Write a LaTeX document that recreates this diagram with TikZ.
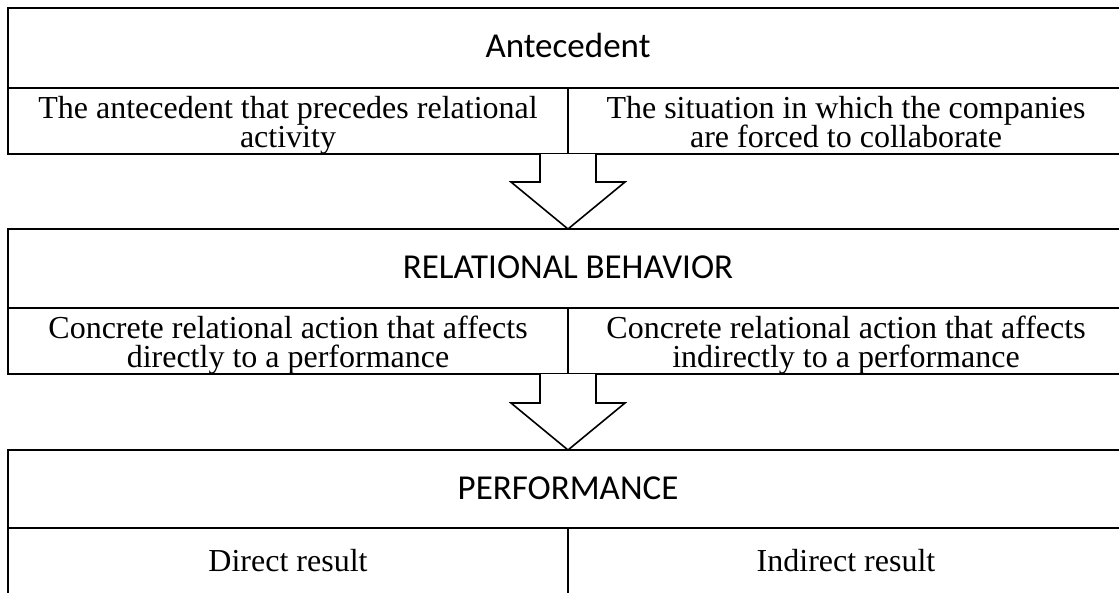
\documentclass[tikz,border=0pt]{standalone}
\usepackage{fontspec}
\setmainfont{Liberation Serif}
\newfontfamily\hdfont{Carlito}
\begin{document}
\begin{tikzpicture}[x=1pt,y=-1pt,
  frame/.style={draw=black,line width=1.6pt},
  hd/.style={font=\hdfont\fontsize{35}{40}\selectfont,anchor=base,inner sep=0pt},
  cell/.style={font=\fontsize{32}{29}\selectfont,anchor=base,inner sep=0pt},
  bigarrow/.style={draw=black,line width=1.6pt,fill=white,line join=miter}]
\useasboundingbox (0,0) rectangle (1119,592);
% box 1
\draw[frame] (8,8) rectangle (1125,154);
\draw[frame] (8,88) -- (1125,88);
\draw[frame] (568,88) -- (568,154);
\node[hd] (h1) at (568,57) {Antecedent};
\node[cell] (c11a) at (288,118) {The antecedent that precedes relational};
\node[cell] (c11b) at (288,147) {activity};
\node[cell] (c12a) at (846,118) {The situation in which the companies};
\node[cell] (c12b) at (846,147) {are forced to collaborate};
% arrow 1
\draw[bigarrow] (540,154) -- (540,182) -- (511,182) -- (568,229) -- (625,182) -- (596,182) -- (596,154);
% box 2
\draw[frame] (8,229) rectangle (1125,374);
\draw[frame] (8,308) -- (1125,308);
\draw[frame] (568,308) -- (568,374);
\node[hd] (h2) at (568,278) {RELATIONAL BEHAVIOR};
\node[cell] (c21a) at (288,338) {Concrete relational action that affects};
\node[cell] (c21b) at (288,367) {directly to a performance};
\node[cell] (c22a) at (846,338) {Concrete relational action that affects};
\node[cell] (c22b) at (846,367) {indirectly to a performance};
% arrow 2
\draw[bigarrow] (540,374) -- (540,403) -- (511,403) -- (568,450) -- (625,403) -- (596,403) -- (596,374);
% box 3
\draw[frame] (8,450) rectangle (1125,600);
\draw[frame] (8,528) -- (1125,528);
\draw[frame] (568,528) -- (568,600);
\node[hd] (h3) at (568,499) {PERFORMANCE};
\node[cell] (c31) at (288,571) {Direct result};
\node[cell] (c32) at (846,571) {Indirect result};
\end{tikzpicture}
\end{document}
